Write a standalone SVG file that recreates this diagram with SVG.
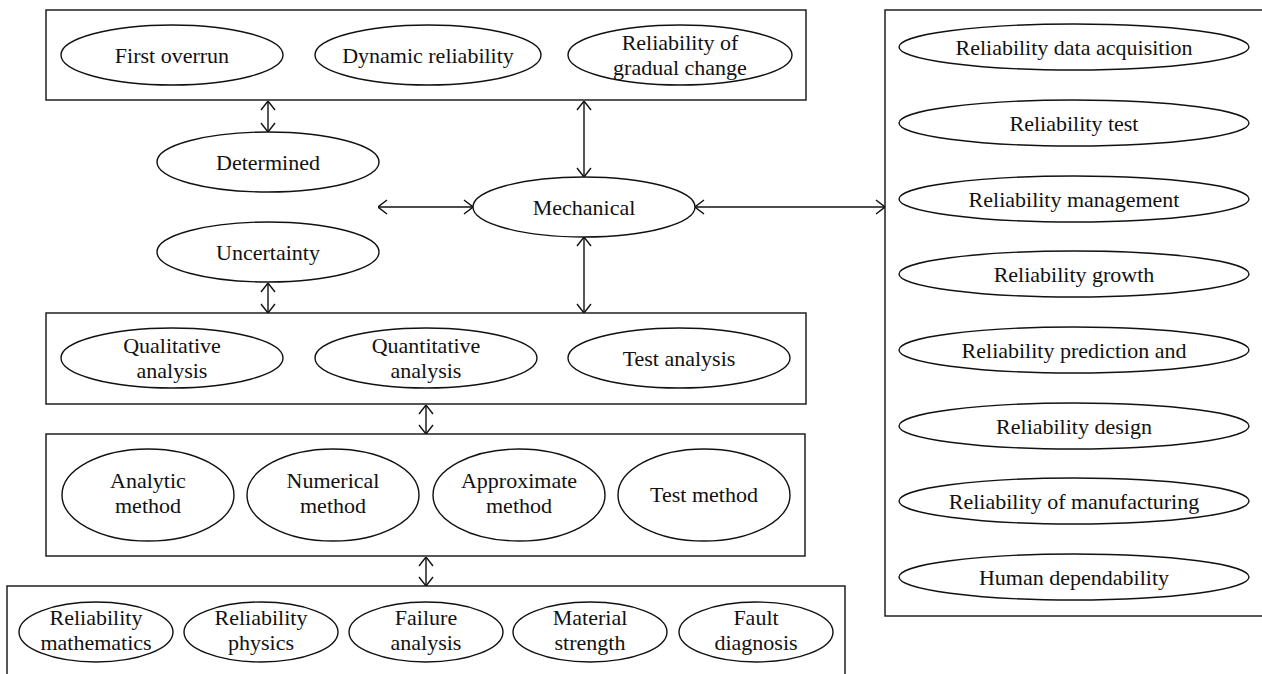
<svg xmlns="http://www.w3.org/2000/svg" width="1262" height="674" viewBox="0 0 1262 674">
<style>
  .box { fill: #fff; stroke: #111; stroke-width: 1.4; }
  .el { fill: #fff; stroke: #111; stroke-width: 1.4; }
  .t { font-family: "Liberation Serif", "Times New Roman", serif; font-size: 22px; fill: #111; text-anchor: middle; }
  .c { fill: none; stroke: #111; stroke-width: 1.4; marker-start: url(#ah); marker-end: url(#ah); }
</style>
<defs>
  <marker id="ah" viewBox="0 0 10 16" refX="10" refY="8" markerWidth="10" markerHeight="16" markerUnits="userSpaceOnUse" orient="auto-start-reverse">
    <path d="M1,1 L10,8 L1,15" fill="none" stroke="#111" stroke-width="1.4"/>
  </marker>
</defs>
<rect width="1262" height="674" fill="#fff"/>

<g id="box-top">
  <rect class="box" x="46" y="10" width="760" height="90"/>
  <g id="n-first-overrun"><ellipse class="el" cx="172" cy="55" rx="111" ry="30"/><text class="t" x="172" y="63">First overrun</text></g>
  <g id="n-dynamic"><ellipse class="el" cx="428" cy="55" rx="113" ry="30"/><text class="t" x="428" y="63">Dynamic reliability</text></g>
  <g id="n-gradual"><ellipse class="el" cx="680" cy="55" rx="112" ry="30"/><text class="t" x="680" y="50">Reliability of</text><text class="t" x="680" y="75">gradual change</text></g>
</g>

<g id="n-determined"><ellipse class="el" cx="268" cy="162" rx="111" ry="30"/><text class="t" x="268" y="170">Determined</text></g>
<g id="n-uncertainty"><ellipse class="el" cx="268" cy="252" rx="111" ry="30"/><text class="t" x="268" y="260">Uncertainty</text></g>
<g id="n-mechanical"><ellipse class="el" cx="584" cy="207" rx="111" ry="30"/><text class="t" x="584" y="215">Mechanical</text></g>

<g id="box-analysis">
  <rect class="box" x="46" y="313" width="760" height="91"/>
  <g id="n-qualitative"><ellipse class="el" cx="172" cy="358" rx="111" ry="30"/><text class="t" x="172" y="353">Qualitative</text><text class="t" x="172" y="378">analysis</text></g>
  <g id="n-quantitative"><ellipse class="el" cx="426" cy="358" rx="111" ry="30"/><text class="t" x="426" y="353">Quantitative</text><text class="t" x="426" y="378">analysis</text></g>
  <g id="n-test-analysis"><ellipse class="el" cx="679" cy="358" rx="111" ry="30"/><text class="t" x="679" y="366">Test analysis</text></g>
</g>

<g id="box-methods">
  <rect class="box" x="46" y="434" width="759" height="122"/>
  <g id="n-analytic"><ellipse class="el" cx="148" cy="495" rx="86" ry="46"/><text class="t" x="148" y="488">Analytic</text><text class="t" x="148" y="513">method</text></g>
  <g id="n-numerical"><ellipse class="el" cx="333" cy="495" rx="86" ry="46"/><text class="t" x="333" y="488">Numerical</text><text class="t" x="333" y="513">method</text></g>
  <g id="n-approximate"><ellipse class="el" cx="519" cy="495" rx="86" ry="46"/><text class="t" x="519" y="488">Approximate</text><text class="t" x="519" y="513">method</text></g>
  <g id="n-test-method"><ellipse class="el" cx="704" cy="495" rx="86" ry="46"/><text class="t" x="704" y="502">Test method</text></g>
</g>

<g id="box-basis">
  <rect class="box" x="7" y="586" width="838" height="100"/>
  <g id="n-rel-math"><ellipse class="el" cx="96" cy="632" rx="77" ry="30"/><text class="t" x="96" y="625">Reliability</text><text class="t" x="96" y="650">mathematics</text></g>
  <g id="n-rel-phys"><ellipse class="el" cx="261" cy="632" rx="77" ry="30"/><text class="t" x="261" y="625">Reliability</text><text class="t" x="261" y="650">physics</text></g>
  <g id="n-failure"><ellipse class="el" cx="426" cy="632" rx="77" ry="30"/><text class="t" x="426" y="625">Failure</text><text class="t" x="426" y="650">analysis</text></g>
  <g id="n-material"><ellipse class="el" cx="590" cy="632" rx="77" ry="30"/><text class="t" x="590" y="625">Material</text><text class="t" x="590" y="650">strength</text></g>
  <g id="n-fault"><ellipse class="el" cx="756" cy="632" rx="77" ry="30"/><text class="t" x="756" y="625">Fault</text><text class="t" x="756" y="650">diagnosis</text></g>
</g>

<g id="box-right">
  <rect class="box" x="885" y="10" width="380" height="606"/>
  <g id="n-r1"><ellipse class="el" cx="1074" cy="47" rx="175" ry="23"/><text class="t" x="1074" y="55">Reliability data acquisition</text></g>
  <g id="n-r2"><ellipse class="el" cx="1074" cy="123" rx="175" ry="23"/><text class="t" x="1074" y="131">Reliability test</text></g>
  <g id="n-r3"><ellipse class="el" cx="1074" cy="199" rx="175" ry="23"/><text class="t" x="1074" y="207">Reliability management</text></g>
  <g id="n-r4"><ellipse class="el" cx="1074" cy="274" rx="175" ry="23"/><text class="t" x="1074" y="282">Reliability growth</text></g>
  <g id="n-r5"><ellipse class="el" cx="1074" cy="350" rx="175" ry="23"/><text class="t" x="1074" y="358">Reliability prediction and</text></g>
  <g id="n-r6"><ellipse class="el" cx="1074" cy="426" rx="175" ry="23"/><text class="t" x="1074" y="434">Reliability design</text></g>
  <g id="n-r7"><ellipse class="el" cx="1074" cy="501" rx="175" ry="23"/><text class="t" x="1074" y="509">Reliability of manufacturing</text></g>
  <g id="n-r8"><ellipse class="el" cx="1074" cy="577" rx="175" ry="23"/><text class="t" x="1074" y="585">Human dependability</text></g>
</g>

<g id="connectors">
  <line class="c" x1="268" y1="101" x2="268" y2="132"/>
  <line class="c" x1="268" y1="283" x2="268" y2="313"/>
  <line class="c" x1="584" y1="101" x2="584" y2="177"/>
  <line class="c" x1="584" y1="237" x2="584" y2="313"/>
  <line class="c" x1="378" y1="207" x2="473" y2="207"/>
  <line class="c" x1="695" y1="207" x2="885" y2="207"/>
  <line class="c" x1="426" y1="405" x2="426" y2="434"/>
  <line class="c" x1="426" y1="557" x2="426" y2="586"/>
</g>
</svg>
